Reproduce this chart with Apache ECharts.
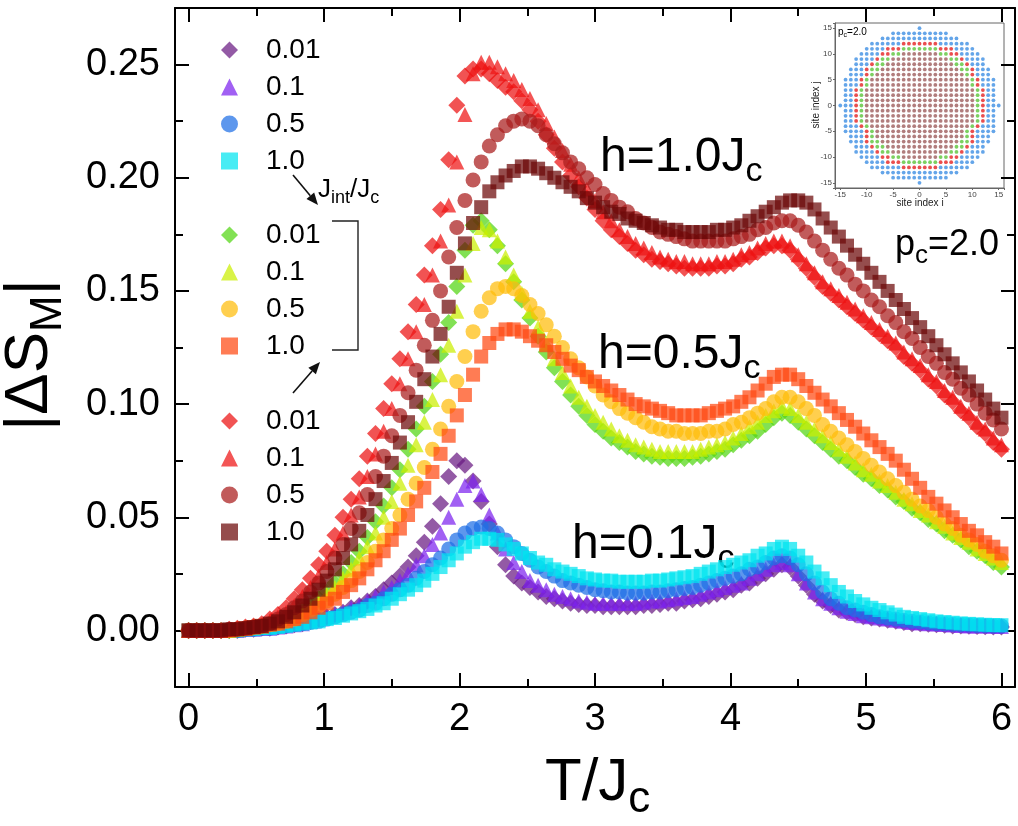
<!DOCTYPE html>
<html><head><meta charset="utf-8">
<script src="https://cdn.jsdelivr.net/npm/echarts@6/dist/echarts.min.js"></script>
<style>html,body{margin:0;padding:0;background:#fff}#c{width:1018px;height:826px}</style>
</head><body><div id="c"></div>
<script>
// temperature grid T/Jc
const T = [0,0.06,0.12,0.18,0.24,0.30,0.36,0.42,0.48,0.54,0.60,0.66,0.72,0.78,0.84,0.90,0.96,1.02,1.08,1.14,
1.20,1.26,1.32,1.38,1.44,1.50,1.56,1.62,1.68,1.74,1.80,1.86,1.92,1.98,2.04,2.10,2.16,2.22,2.28,2.34,
2.40,2.46,2.52,2.58,2.64,2.70,2.76,2.82,2.88,2.94,3.00,3.06,3.12,3.18,3.24,3.30,3.36,3.42,3.48,3.54,
3.60,3.66,3.72,3.78,3.84,3.90,3.96,4.02,4.08,4.14,4.20,4.26,4.32,4.38,4.44,4.50,4.56,4.62,4.68,4.74,
4.80,4.86,4.92,4.98,5.04,5.10,5.16,5.22,5.28,5.34,5.40,5.46,5.52,5.58,5.64,5.70,5.76,5.82,5.88,5.94,6.00];

// |dS_M| for h = 0.1 Jc
const h01_J001 = [0,0,0,0,0,0,0,0.0005,0.0005,0.001,
0.001,0.0015,0.002,0.0025,0.003,0.004,0.005,0.006,0.007,0.008,
0.010,0.011,0.013,0.015,0.018,0.021,0.024,0.028,0.033,0.039,
0.046,0.056,0.068,0.075,0.073,0.066,0.057,0.047,0.037,0.029,
0.024,0.021,0.019,0.017,0.015,0.014,0.013,0.012,0.0115,0.011,
0.011,0.0105,0.0105,0.0105,0.0105,0.0105,0.011,0.011,0.0115,0.012,
0.012,0.013,0.0135,0.014,0.015,0.016,0.017,0.018,0.020,0.021,
0.023,0.025,0.027,0.029,0.028,0.024,0.020,0.016,0.013,0.011,
0.009,0.008,0.007,0.006,0.0055,0.005,0.0045,0.004,0.0035,0.003,
0.003,0.0027,0.0025,0.0023,0.002,0.002,0.0018,0.0017,0.0016,0.0015,0.0015];
const h01_J01 = [0,0,0,0,0,0,0,0.0005,0.0005,0.001,
0.001,0.0015,0.002,0.0025,0.003,0.004,0.005,0.006,0.007,0.008,
0.010,0.011,0.013,0.015,0.017,0.019,0.022,0.025,0.029,0.033,
0.038,0.043,0.050,0.058,0.064,0.066,0.060,0.051,0.043,0.036,
0.030,0.026,0.022,0.020,0.018,0.016,0.015,0.014,0.013,0.0125,
0.012,0.012,0.012,0.012,0.012,0.012,0.0125,0.013,0.013,0.0135,
0.014,0.0145,0.015,0.016,0.017,0.018,0.019,0.020,0.021,0.023,
0.025,0.027,0.029,0.030,0.029,0.025,0.021,0.017,0.014,0.012,
0.010,0.0085,0.0075,0.0065,0.006,0.0055,0.005,0.0045,0.004,0.0035,
0.0033,0.003,0.0028,0.0026,0.0024,0.0022,0.002,0.002,0.0019,0.0018,0.0017];
const h01_J05 = [0,0,0,0,0,0,0,0.0005,0.0005,0.001,
0.001,0.0015,0.002,0.0025,0.003,0.0035,0.004,0.005,0.006,0.007,
0.008,0.009,0.011,0.012,0.014,0.016,0.018,0.020,0.023,0.026,
0.029,0.032,0.036,0.040,0.043,0.045,0.0457,0.045,0.043,0.040,
0.037,0.034,0.031,0.028,0.026,0.024,0.022,0.021,0.020,0.019,
0.018,0.0175,0.017,0.017,0.0165,0.0165,0.0165,0.017,0.017,0.0175,
0.018,0.0185,0.019,0.020,0.021,0.022,0.023,0.024,0.025,0.027,
0.028,0.030,0.032,0.033,0.032,0.029,0.025,0.021,0.017,0.014,
0.012,0.010,0.009,0.008,0.007,0.006,0.0055,0.005,0.0045,0.004,
0.0037,0.0034,0.0031,0.0029,0.0027,0.0025,0.0024,0.0022,0.0021,0.002,0.002];
const h01_J10 = [0,0,0,0,0,0,0,0.0005,0.0005,0.001,
0.001,0.0015,0.002,0.0025,0.003,0.0035,0.004,0.005,0.0055,0.0065,
0.0075,0.0085,0.0095,0.011,0.012,0.014,0.016,0.018,0.020,0.022,
0.025,0.028,0.031,0.034,0.037,0.039,0.0405,0.0405,0.040,0.038,
0.036,0.034,0.032,0.030,0.029,0.027,0.026,0.025,0.024,0.023,
0.0225,0.022,0.022,0.0215,0.0215,0.0215,0.0215,0.022,0.022,0.0225,
0.023,0.0235,0.024,0.025,0.026,0.027,0.028,0.029,0.030,0.031,
0.033,0.034,0.036,0.037,0.036,0.033,0.030,0.026,0.023,0.020,
0.017,0.015,0.013,0.0115,0.010,0.009,0.008,0.007,0.006,0.0055,
0.005,0.0045,0.004,0.0037,0.0034,0.0031,0.0029,0.0027,0.0025,0.0024,0.0023];

// |dS_M| for h = 0.5 Jc
const h05_J001 = [0,0,0,0,0,0,0.0005,0.001,0.0015,0.002,
0.003,0.004,0.005,0.007,0.009,0.011,0.014,0.017,0.021,0.025,
0.030,0.035,0.041,0.048,0.055,0.063,0.071,0.080,0.089,0.099,
0.110,0.122,0.136,0.152,0.168,0.179,0.181,0.177,0.170,0.162,
0.154,0.146,0.138,0.130,0.123,0.116,0.110,0.104,0.099,0.095,
0.091,0.088,0.085,0.083,0.081,0.079,0.078,0.077,0.0765,0.076,
0.076,0.076,0.0765,0.077,0.078,0.079,0.080,0.082,0.084,0.086,
0.088,0.091,0.094,0.096,0.095,0.092,0.089,0.086,0.083,0.080,
0.077,0.075,0.072,0.069,0.067,0.064,0.062,0.059,0.057,0.054,
0.052,0.049,0.047,0.044,0.042,0.040,0.037,0.035,0.033,0.030,0.028];
const h05_J01 = [0,0,0,0,0,0,0.0005,0.001,0.0015,0.002,
0.003,0.004,0.005,0.006,0.008,0.010,0.013,0.016,0.019,0.023,
0.027,0.032,0.037,0.043,0.050,0.057,0.065,0.073,0.082,0.092,
0.102,0.113,0.126,0.141,0.157,0.171,0.178,0.177,0.172,0.165,
0.157,0.149,0.141,0.134,0.127,0.120,0.114,0.108,0.103,0.099,
0.095,0.092,0.089,0.086,0.084,0.082,0.081,0.080,0.079,0.079,
0.079,0.079,0.079,0.080,0.081,0.082,0.083,0.085,0.087,0.090,
0.092,0.095,0.097,0.099,0.098,0.095,0.092,0.089,0.086,0.083,
0.080,0.077,0.074,0.071,0.069,0.066,0.064,0.061,0.058,0.056,
0.053,0.051,0.048,0.046,0.043,0.041,0.039,0.036,0.034,0.032,0.030];
const h05_J05 = [0,0,0,0,0,0,0.0005,0.001,0.0015,0.002,
0.0025,0.003,0.004,0.005,0.007,0.009,0.011,0.013,0.016,0.019,
0.022,0.026,0.030,0.035,0.040,0.045,0.051,0.058,0.065,0.072,
0.080,0.089,0.099,0.110,0.121,0.132,0.141,0.147,0.151,0.152,
0.151,0.148,0.144,0.140,0.135,0.130,0.125,0.120,0.116,0.112,
0.108,0.104,0.101,0.098,0.096,0.094,0.092,0.090,0.089,0.088,
0.088,0.087,0.087,0.087,0.088,0.088,0.089,0.091,0.092,0.094,
0.096,0.098,0.101,0.103,0.103,0.101,0.098,0.095,0.091,0.088,
0.085,0.082,0.079,0.076,0.073,0.070,0.067,0.064,0.061,0.058,
0.055,0.053,0.050,0.047,0.045,0.042,0.040,0.038,0.035,0.033,0.031];
const h05_J10 = [0,0,0,0,0,0,0.0005,0.001,0.0015,0.002,
0.0025,0.003,0.004,0.005,0.006,0.008,0.010,0.012,0.014,0.017,
0.020,0.023,0.027,0.031,0.035,0.040,0.045,0.051,0.057,0.063,
0.070,0.078,0.086,0.095,0.104,0.113,0.121,0.127,0.131,0.133,
0.133,0.132,0.130,0.128,0.126,0.123,0.120,0.117,0.115,0.112,
0.110,0.108,0.106,0.104,0.102,0.100,0.099,0.098,0.097,0.096,
0.095,0.095,0.095,0.095,0.096,0.097,0.098,0.099,0.101,0.103,
0.106,0.109,0.112,0.113,0.113,0.111,0.108,0.105,0.102,0.099,
0.096,0.093,0.090,0.087,0.084,0.081,0.078,0.075,0.071,0.067,
0.063,0.059,0.056,0.053,0.050,0.047,0.044,0.042,0.039,0.037,0.034];

// |dS_M| for h = 1.0 Jc
const h10_J001 = [0,0,0,0,0,0.0005,0.001,0.0015,0.002,0.003,
0.005,0.007,0.010,0.014,0.018,0.023,0.029,0.035,0.042,0.050,
0.058,0.067,0.077,0.087,0.098,0.109,0.120,0.132,0.144,0.157,
0.170,0.186,0.208,0.232,0.245,0.248,0.248,0.246,0.243,0.240,
0.238,0.234,0.230,0.225,0.219,0.213,0.207,0.201,0.196,0.191,
0.186,0.181,0.177,0.174,0.171,0.168,0.166,0.164,0.163,0.162,
0.161,0.160,0.160,0.160,0.160,0.161,0.161,0.162,0.164,0.165,
0.167,0.169,0.170,0.170,0.168,0.164,0.160,0.156,0.152,0.149,
0.146,0.143,0.140,0.137,0.134,0.131,0.128,0.125,0.121,0.118,
0.115,0.111,0.108,0.104,0.101,0.097,0.094,0.090,0.087,0.083,0.080];
const h10_J01 = [0,0,0,0,0,0.0005,0.001,0.001,0.0015,0.002,
0.004,0.006,0.008,0.011,0.015,0.019,0.024,0.030,0.036,0.043,
0.051,0.059,0.068,0.078,0.088,0.098,0.109,0.120,0.132,0.144,
0.157,0.172,0.188,0.207,0.228,0.246,0.251,0.251,0.249,0.246,
0.243,0.239,0.235,0.230,0.224,0.218,0.212,0.206,0.200,0.195,
0.190,0.185,0.181,0.177,0.174,0.171,0.169,0.167,0.165,0.164,
0.163,0.163,0.162,0.162,0.162,0.163,0.163,0.164,0.166,0.167,
0.169,0.171,0.172,0.172,0.170,0.166,0.162,0.158,0.154,0.151,
0.148,0.145,0.142,0.139,0.136,0.133,0.130,0.127,0.123,0.120,
0.117,0.113,0.110,0.106,0.103,0.099,0.096,0.092,0.089,0.085,0.082];
const h10_J05 = [0,0,0,0,0,0.0005,0.0005,0.001,0.0015,0.002,
0.003,0.005,0.007,0.010,0.013,0.017,0.021,0.026,0.032,0.038,
0.045,0.052,0.060,0.068,0.077,0.086,0.095,0.105,0.115,0.126,
0.137,0.150,0.165,0.178,0.190,0.199,0.207,0.214,0.219,0.223,
0.225,0.226,0.225,0.223,0.219,0.215,0.211,0.207,0.204,0.200,
0.197,0.193,0.190,0.187,0.185,0.182,0.180,0.178,0.176,0.175,
0.174,0.173,0.172,0.172,0.172,0.172,0.172,0.173,0.174,0.175,
0.177,0.178,0.180,0.181,0.181,0.179,0.176,0.172,0.168,0.164,
0.160,0.157,0.153,0.150,0.146,0.143,0.139,0.136,0.132,0.129,
0.125,0.121,0.118,0.114,0.111,0.107,0.104,0.100,0.096,0.093,0.089];
const h10_J10 = [0,0,0,0,0,0.0005,0.0005,0.001,0.0015,0.002,
0.003,0.004,0.006,0.008,0.011,0.014,0.018,0.022,0.027,0.032,
0.038,0.044,0.051,0.058,0.066,0.074,0.083,0.092,0.101,0.111,
0.121,0.131,0.143,0.158,0.171,0.180,0.187,0.194,0.198,0.201,
0.203,0.205,0.205,0.204,0.202,0.200,0.198,0.196,0.194,0.191,
0.189,0.187,0.185,0.184,0.182,0.181,0.180,0.179,0.178,0.177,
0.177,0.176,0.176,0.176,0.176,0.177,0.177,0.178,0.179,0.181,
0.183,0.185,0.187,0.189,0.190,0.190,0.189,0.186,0.182,0.178,
0.174,0.170,0.166,0.162,0.158,0.154,0.150,0.146,0.142,0.138,
0.134,0.130,0.126,0.122,0.118,0.114,0.110,0.106,0.102,0.098,0.094];

// legend labels (J_int / J_c) and tick labels
const jintLabels = ['0.01', '0.1', '0.5', '1.0'];
const xTickLabels = ['0','1','2','3','4','5','6'];
const yTickLabels = ['0.00','0.05','0.10','0.15','0.20','0.25'];

// inset: site classes on the lattice, rows j = 15 .. -15, columns i = -15 .. 15
// b = outer sites, r / g = cluster boundary layers, m = cluster interior
const siteRows = [
'...............b...............',
'..........bbbbbbbbbbb..........',
'........bbbbbbbbbbbbbbb........',
'......bbbbbbrrrrrrrbbbbbb......',
'.....bbbbrrrgggggggrrrbbbb.....',
'....bbbbrrggmmmmmmmggrrbbbb....',
'...bbbbrggmmmmmmmmmmmggrbbbb...',
'...bbbrggmmmmmmmmmmmmmggrbbb...',
'..bbbrggmmmmmmmmmmmmmmmggrbbb..',
'..bbbrgmmmmmmmmmmmmmmmmmgrbbb..',
'.bbbrgmmmmmmmmmmmmmmmmmmmgrbbb.',
'.bbbrgmmmmmmmmmmmmmmmmmmmgrbbb.',
'.bbrgmmmmmmmmmmmmmmmmmmmmmgrbb.',
'.bbrgmmmmmmmmmmmmmmmmmmmmmgrbb.',
'.bbrgmmmmmmmmmmmmmmmmmmmmmgrbb.',
'bbbrgmmmmmmmmmmmmmmmmmmmmmgrbbb',
'.bbrgmmmmmmmmmmmmmmmmmmmmmgrbb.',
'.bbrgmmmmmmmmmmmmmmmmmmmmmgrbb.',
'.bbrgmmmmmmmmmmmmmmmmmmmmmgrbb.',
'.bbbrgmmmmmmmmmmmmmmmmmmmgrbbb.',
'.bbbbrgmmmmmmmmmmmmmmmmmgrbbbb.',
'..bbbrgmmmmmmmmmmmmmmmmmgrbbb..',
'..bbbrggmmmmmmmmmmmmmmmggrbbb..',
'...bbbrggmmmmmmmmmmmmmggrbbb...',
'...bbbbrggmmmmmmmmmmmggrbbbb...',
'....bbbbrrggmmmmmmmggrrbbbb....',
'.....bbbbrrrgggggggrrrbbbb.....',
'......bbbbbbrrrrrrrbbbbbb......',
'........bbbbbbbbbbbbbbb........',
'..........bbbbbbbbbbb..........',
'...............b...............'
];

const FONT = 'Liberation Sans, Arial, Helvetica, sans-serif';
const DIAMOND = 'path://M0,-10L10,0L0,10L-10,0Z';
const shapes = [
  {symbol: DIAMOND, size: 17},
  {symbol: 'triangle', size: 15},
  {symbol: 'circle', size: 15},
  {symbol: 'rect', size: 14}
];
const groups = [
  {h: '0.1', colors: ['#6a1a82', '#7d22ee', '#1f6fe6', '#00e4f0'], data: [h01_J001, h01_J01, h01_J05, h01_J10]},
  {h: '0.5', colors: ['#52d612', '#cbee00', '#ffbd0a', '#ff4a12'], data: [h05_J001, h05_J01, h05_J05, h05_J10]},
  {h: '1.0', colors: ['#ec1010', '#ee1414', '#a91c1c', '#6c0808'], data: [h10_J001, h10_J01, h10_J05, h10_J10]}
];

const series = [];
const legendNames = [];
groups.forEach(g => {
  const names = [];
  g.data.forEach((vals, k) => {
    const name = jintLabels[k] + ' @h=' + g.h;
    names.push(name);
    series.push({
      type: 'scatter', name, xAxisIndex: 0, yAxisIndex: 0,
      symbol: shapes[k].symbol, symbolSize: shapes[k].size, symbolKeepAspect: true,
      itemStyle: {color: g.colors[k], opacity: 0.72},
      data: vals.map((v, i) => [T[i], v]),
      silent: true
    });
  });
  legendNames.push(names);
});

// inset lattice, one scatter series per site class
const siteColors = {b: '#3d8fe3', r: '#e52222', g: '#5bc43a', m: '#9e5c5c'};
const siteData = {b: [], r: [], g: [], m: []};
siteRows.forEach((row, r) => {
  const j = 15 - r;
  row.split('').forEach((c, k) => { if (siteData[c]) siteData[c].push([k - 15, j]); });
});
['b', 'm', 'g', 'r'].forEach(c => series.push({
  type: 'scatter', xAxisIndex: 4, yAxisIndex: 4, symbol: 'circle', symbolSize: 3.8, z: 10,
  itemStyle: {color: siteColors[c]}, data: siteData[c], silent: true
}));

const frame = {show: true, onZero: false, lineStyle: {color: '#000', width: 2}};
const isMul = (v, s) => Math.abs(v / s - Math.round(v / s)) < 1e-6;

function mainX(pos, labels) {
  return {gridIndex: 0, type: 'value', position: pos, min: -0.1, max: 6.1, splitNumber: 6,
    axisLine: frame, splitLine: {show: false},
    axisTick: {inside: true, length: 14, lineStyle: {color: '#000', width: 2}},
    axisLabel: {show: labels, fontSize: 38, fontFamily: FONT, color: '#000', margin: 14,
      formatter: v => isMul(v, 1) ? xTickLabels[Math.round(v)] : ''}};
}
function minorX(pos) {
  return {gridIndex: 0, type: 'value', position: pos, min: -0.1, max: 6.1, splitNumber: 12,
    axisLine: {show: false, onZero: false}, splitLine: {show: false}, axisLabel: {show: false},
    axisTick: {inside: true, length: 8, lineStyle: {color: '#000', width: 2}}};
}
function mainY(pos, labels) {
  return {gridIndex: 0, type: 'value', position: pos, min: -0.025, max: 0.275, splitNumber: 6,
    axisLine: frame, splitLine: {show: false},
    axisTick: {inside: true, length: 14, lineStyle: {color: '#000', width: 2}},
    axisLabel: {show: labels, fontSize: 38, fontFamily: FONT, color: '#000', margin: 15,
      formatter: v => isMul(v, 0.05) ? yTickLabels[Math.round(v / 0.05)] : ''}};
}
function minorY(pos) {
  return {gridIndex: 0, type: 'value', position: pos, min: -0.025, max: 0.275, interval: 0.025,
    axisLine: {show: false, onZero: false}, splitLine: {show: false}, axisLabel: {show: false},
    axisTick: {inside: true, length: 8, lineStyle: {color: '#000', width: 2}}};
}
const insetAxis = (pos) => ({gridIndex: 1, type: 'value', position: pos, min: -16, max: 16, splitNumber: 6, z: 11,
  axisLine: {show: true, onZero: false, lineStyle: {color: '#666', width: 1}}, splitLine: {show: false},
  axisTick: {inside: false, length: 2, lineStyle: {color: '#666'}},
  axisLabel: {fontSize: 8, fontFamily: FONT, color: '#444', margin: 3,
    formatter: v => isMul(v, 5) ? String(v) : ''}});

const sub = (fs) => ({fontSize: fs, fontFamily: FONT, color: '#000', lineHeight: fs, verticalAlign: 'bottom'});
const main = (fs) => ({fontSize: fs, fontFamily: FONT, color: '#000', lineHeight: Math.round(fs * 1.3), verticalAlign: 'middle'});
function richText(x, y, text, fs, sfs, extra) {
  return Object.assign({type: 'text', x, y, silent: true,
    style: {text, rich: {m: main(fs), s: sub(sfs)}, align: 'left', verticalAlign: 'middle'}}, extra || {});
}
function arrow(x1, y1, x2, y2) {
  const L = Math.hypot(x2 - x1, y2 - y1), ux = (x2 - x1) / L, uy = (y2 - y1) / L;
  const bx = x2 - 12 * ux, by = y2 - 12 * uy, px = -uy, py = ux;
  return [
    {type: 'line', silent: true, shape: {x1, y1, x2: bx, y2: by}, style: {stroke: '#111', lineWidth: 1.6}},
    {type: 'polygon', silent: true, shape: {points: [[x2, y2], [bx + 5 * px, by + 5 * py], [bx - 5 * px, by - 5 * py]]}, style: {fill: '#111'}}
  ];
}

const option = {
  animation: false,
  backgroundColor: '#fff',
  grid: [
    {left: 175, top: 8, right: 1, bottom: 139},
    {left: 835, top: 23, width: 169, height: 165, show: true, backgroundColor: '#fff', borderColor: '#666', borderWidth: 1}
  ],
  xAxis: [mainX('bottom', true), mainX('top', false), minorX('bottom'), minorX('top'), insetAxis('bottom')],
  yAxis: [mainY('left', true), mainY('right', false), minorY('left'), minorY('right'), insetAxis('left')],
  legend: [31, 216, 402].map((top, g) => ({
    orient: 'vertical', left: 216, top, itemWidth: 17, itemHeight: 17, itemGap: 9,
    selectedMode: false, data: legendNames[g],
    formatter: n => '{s| }' + n.split(' @')[0],
    textStyle: {fontSize: 28, fontFamily: FONT, color: '#000', rich: {s: {width: 23}}}
  })),
  series,
  graphic: [
    richText(600, 158, '{m|h=1.0J}{s|c}', 48, 34),
    richText(598, 355, '{m|h=0.5J}{s|c}', 48, 34),
    richText(572, 545, '{m|h=0.1J}{s|c}', 48, 34),
    richText(895, 245, '{m|p}{s|c}{m|=2.0}', 36, 26),
    richText(318, 190, '{m|J}{s|int}{m|/J}{s|c}', 26, 18),
    richText(545, 783, '{m|T/J}{s|c}', 60, 44),
    {type: 'text', x: 30, y: 355, rotation: Math.PI / 2, silent: true,
      style: {text: '{m||ΔS}{s|M}{m||}', rich: {m: main(62), s: sub(44)}, align: 'center', verticalAlign: 'middle'}},
    {type: 'polyline', silent: true, shape: {points: [[332, 221], [358, 221], [358, 350], [332, 350]]}, style: {stroke: '#222', lineWidth: 1.4, fill: null}},
    ...arrow(293, 175, 318, 205),
    ...arrow(293, 393, 320, 362),
    richText(838, 32, '{m|p}{s|c}{m|=2.0}', 10, 7, {z: 100}),
    {type: 'text', x: 920, y: 203, z: 100, silent: true, style: {text: 'site index i', font: '10px ' + FONT, fill: '#222', align: 'center', verticalAlign: 'middle'}},
    {type: 'text', x: 816, y: 105, z: 100, rotation: Math.PI / 2, silent: true, style: {text: 'site index j', font: '10px ' + FONT, fill: '#222', align: 'center', verticalAlign: 'middle'}}
  ]
};

const chart = echarts.init(document.getElementById('c'), null, {renderer: 'canvas'});
chart.setOption(option);
</script></body></html>
